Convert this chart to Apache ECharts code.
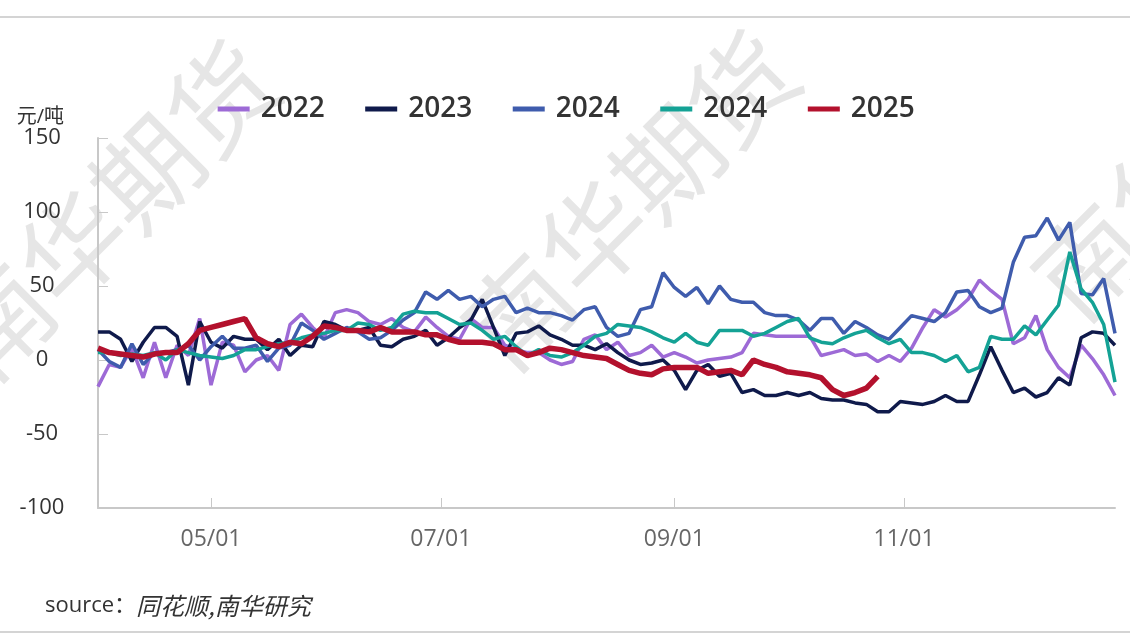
<!DOCTYPE html>
<html>
<head>
<meta charset="utf-8">
<script src="https://cdn.jsdelivr.net/npm/echarts@6/dist/echarts.min.js"></script>
<style>
  html, body { margin: 0; padding: 0; background: #fff; }
  #chart { width: 1130px; height: 637px; }
</style>
</head>
<body>
<div id="chart"></div>
<script>
// dados: um ponto a cada 3 dias a partir de 01/04 (eixo x = dias desde 01/04)
const startDate = [2025, 3, 1];
const stepDays = 3;

const seriesNames = ['2022', '2023', '2024', '2024 ', '2025'];
const seriesColors = ['#9d6ad6', '#0f1a4b', '#3f5cad', '#14a295', '#b3112d'];

const v2022 = [-18, -3, -5, 8, -12, 12, -12, 10, 3, 28, -17, 12, 10, -8, 0, 3, -7, 24, 31, 22,
  15, 32, 34, 32, 26, 24, 28, 22, 19, 29, 22, 16, 14, 28, 22, 22, 10, 7, 5, 5,
  0, -3, -1, 14, 17, 7, 12, 3, 5, 10, 2, 5, 2, -2, 0, 1, 2, 5, 18, 17,
  16, 16, 16, 16, 3, 5, 7, 3, 4, -1, 3, -1, 8, 22, 34, 29, 34, 41, 54, 47,
  41, 11, 15, 30, 7, -5, -12, 10, 1, -10, -24];

const v2023 = [19, 19, 14, -1, 12, 22, 22, 16, -17, 26, 12, 8, 16, 14, 14, 7, 14, 3, 10, 9,
  26, 24, 20, 20, 22, 10, 9, 14, 16, 20, 10, 15, 22, 27, 41, 22, 3, 18, 19, 23,
  17, 14, 10, 10, 7, 11, 5, 0, -3, -2, 0, -7, -20, -7, -3, -11, -9, -22, -20, -24,
  -24, -22, -24, -22, -26, -27, -27, -29, -30, -35, -35, -28, -29, -30, -28, -24, -28, -28, -10, 9,
  -7, -22, -19, -25, -22, -12, -17, 15, 19, 18, 10];

const v2024a = [7, -1, -5, 11, -3, 5, 5, 7, 10, 0, 9, 16, 8, 8, 10, -1, 8, 10, 25, 20,
  14, 18, 22, 19, 14, 15, 20, 27, 32, 46, 41, 47, 41, 43, 36, 41, 43, 32, 35, 32,
  32, 30, 27, 34, 36, 22, 16, 18, 34, 36, 59, 49, 43, 49, 38, 50, 41, 39, 39, 32,
  30, 30, 27, 20, 28, 28, 18, 26, 22, 17, 14, 22, 30, 28, 26, 32, 46, 47, 36, 32,
  35, 66, 83, 84, 96, 81, 93, 45, 44, 55, 18];

const v2024b = [5, 5, 3, 4, 3, 5, 0, 7, 5, 3, 2, 1, 3, 7, 7, 9, 11, 12, 15, 17,
  18, 20, 20, 25, 24, 20, 22, 31, 33, 32, 32, 28, 24, 25, 20, 14, 16, 9, 3, 7,
  3, 2, 5, 10, 16, 18, 24, 23, 22, 19, 15, 12, 18, 12, 10, 20, 20, 20, 16, 18,
  22, 26, 28, 15, 12, 11, 15, 18, 20, 15, 11, 14, 5, 5, 3, -1, 3, -8, -5, 16,
  14, 14, 23, 17, 27, 37, 73, 48, 39, 24, -15];

const v2025 = [8, 5, 4, 3, 2, 4, 5, 5, 11, 20, 22, 24, 26, 28, 15, 11, 9, 12, 11, 16,
  23, 22, 20, 20, 19, 22, 19, 19, 19, 17, 17, 14, 12, 12, 12, 11, 7, 7, 3, 5,
  8, 7, 5, 3, 2, 1, -3, -7, -9, -10, -6, -5, -5, -5, -9, -8, -7, -10, 0, -3,
  -5, -8, -9, -10, -12, -20, -24, -22, -19, -11];

const seriesValues = [v2022, v2023, v2024a, v2024b, v2025];

const yTicks = { min: -100, max: 150, step: 50 };
// rótulos do eixo x: dias desde 01/04
const xLabelDays = [30, 91, 153, 214];
const xMaxDay = 270;

const unitLabel = '元/吨';
const sourceLabel = 'source：';
const sourceText = '同花顺,南华研究';
const watermark = '南华期货';

// ======================MONTAGEM======================

function formatarDia(dia) {
    const d = new Date(startDate[0], startDate[1], startDate[2] + Math.round(dia));
    return String(d.getMonth() + 1).padStart(2, '0') + '/' + String(d.getDate()).padStart(2, '0');
}

const fonte = "'Open Sans', 'Noto Sans CJK SC', sans-serif";

const series = seriesValues.map((vals, k) => ({
    name: seriesNames[k],
    type: 'line',
    symbol: 'none',
    z: 2 + k,
    lineStyle: { width: k === 4 ? 5.5 : 3.5, color: seriesColors[k] },
    itemStyle: { color: seriesColors[k] },
    data: vals.map((v, i) => [i * stepDays, v])
}));

const marcaDagua = [[110, 210], [630, 200], [1200, 150]].map(p => ({
    type: 'text',
    x: p[0],
    y: p[1],
    rotation: Math.PI / 4,
    z: -10,
    silent: true,
    style: {
        text: watermark,
        fill: '#e6e6e6',
        font: "105px 'Noto Sans CJK SC'",
        align: 'center',
        verticalAlign: 'middle'
    }
}));

const myChart = echarts.init(document.getElementById('chart'));

myChart.setOption({
    animation: false,
    backgroundColor: '#fff',
    textStyle: { fontFamily: fonte },
    graphic: [
        ...marcaDagua,
        { type: 'line', shape: { x1: 0, y1: 17, x2: 1130, y2: 17 }, style: { stroke: '#d4d4d4', lineWidth: 2 } },
        { type: 'line', shape: { x1: 0, y1: 632, x2: 1130, y2: 632 }, style: { stroke: '#d4d4d4', lineWidth: 2 } },
        {
            type: 'text',
            left: 45,
            top: 594,
            style: {
                text: '{a|' + sourceLabel + '}{b|' + sourceText + '}',
                rich: {
                    a: { fontSize: 22, fill: '#333', fontFamily: fonte },
                    b: { fontSize: 24, fill: '#333', fontStyle: 'italic', fontFamily: "'Noto Sans CJK SC'" }
                }
            }
        }
    ],
    legend: {
        top: 90,
        left: 'center',
        itemWidth: 32,
        itemHeight: 5,
        itemGap: 38,
        lineStyle: { width: 5, cap: 'butt' },
        itemStyle: { borderWidth: 0 },
        formatter: name => name.trim(),
        textStyle: { fontSize: 28, fontWeight: 600, color: '#333', padding: [0, 0, 0, 6] },
        data: seriesNames
    },
    grid: { left: 98, right: 15, top: 138, bottom: 129, containLabel: false },
    xAxis: {
        type: 'value',
        min: 0,
        max: xMaxDay,
        axisLine: { onZero: false, lineStyle: { color: '#c8c8c8', width: 2 } },
        axisTick: { show: true, inside: true, length: 10, lineStyle: { color: '#c8c8c8', width: 1 }, customValues: xLabelDays },
        axisLabel: { fontSize: 23, color: '#666', margin: 20, customValues: xLabelDays, formatter: formatarDia },
        splitLine: { show: false }
    },
    yAxis: {
        type: 'value',
        min: yTicks.min,
        max: yTicks.max,
        interval: yTicks.step,
        name: unitLabel,
        nameLocation: 'end',
        nameGap: 8,
        nameTextStyle: { fontSize: 20, color: '#333', align: 'right', padding: [0, 34, 0, 0] },
        axisLine: { show: true, lineStyle: { color: '#c8c8c8', width: 2 } },
        axisTick: { show: true, inside: true, length: 10, lineStyle: { color: '#c8c8c8' } },
        axisLabel: { fontSize: 22, color: '#333', align: 'center', margin: 56 },
        splitLine: { show: false }
    },
    series: series
});
</script>
</body>
</html>
